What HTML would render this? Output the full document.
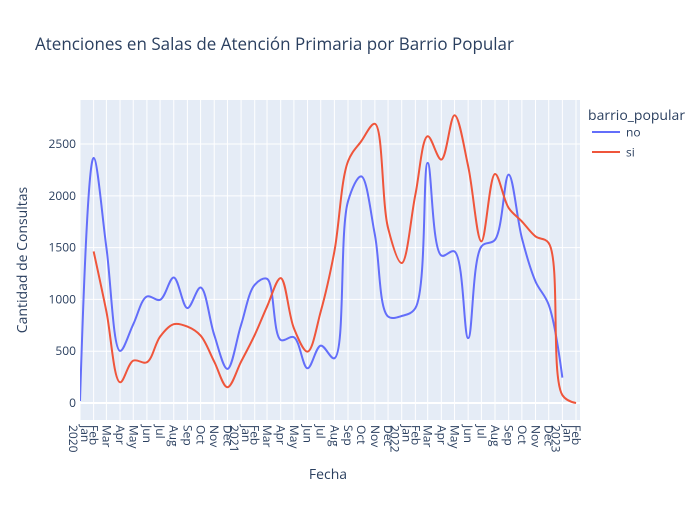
<!DOCTYPE html>
<html><head><meta charset="utf-8"><style>
body{margin:0;background:#fff}
svg{font-family:"Open Sans","Liberation Sans",sans-serif}
</style></head><body>
<svg id="chart" width="700" height="500" xmlns="http://www.w3.org/2000/svg">
<rect width="700" height="500" fill="#fff"/>
<rect x="80" y="100" width="500" height="320" fill="#E5ECF6"/>
<g id="grid"></g><g id="series"></g><g id="xt"></g><g id="yt"></g>
<text x="35" y="50" font-size="17" fill="#2a3f5f">Atenciones en Salas de Atención Primaria por Barrio Popular</text>
<text x="328" y="479" font-size="14" fill="#2a3f5f" text-anchor="middle">Fecha</text>
<text transform="translate(27,260) rotate(-90)" font-size="14" fill="#2a3f5f" text-anchor="middle">Cantidad de Consultas</text>
<g>
<text x="588" y="120" font-size="14" fill="#2a3f5f">barrio_popular</text>
<g><line x1="592" y1="132" x2="620" y2="132" stroke="#636efa" stroke-width="2"/><text x="626" y="136.5" font-size="12" fill="#2a3f5f">no</text></g>
<g><line x1="592" y1="152" x2="620" y2="152" stroke="#EF553B" stroke-width="2"/><text x="626" y="156.5" font-size="12" fill="#2a3f5f">si</text></g>
</g>
</svg>
<script>
const monthNames=["Jan","Feb","Mar","Apr","May","Jun","Jul","Aug","Sep","Oct","Nov","Dec"];
const yTicks=[0,500,1000,1500,2000,2500];
const noStart=[2020,0];
const noValues=[20,2366,1500,503,760,1028,996,1212,916,1115,657,329,754,1141,1199,609,635,335,554,432,1947,2188,1625,835,840,916,2318,1424,1463,626,1511,1576,2205,1593,1173,948,245];
const siStart=[2020,1];
const siValues=[1463,883,200,409,393,641,761,738,651,399,152,399,657,931,1206,722,496,883,1463,2333,2527,2695,1689,1351,2011,2575,2350,2778,2285,1560,2211,1883,1753,1608,1544,77,0];
const NS="http://www.w3.org/2000/svg";
const X0=Date.UTC(2020,0,1),X1=Date.UTC(2023,1,1);
const xs=(y,m)=>80+(Date.UTC(y,m,1)-X0)/(X1-X0)*496;
const Y0=-164,Y1=2925;
const ys=v=>420-(v-Y0)/(Y1-Y0)*320;
function mk(tag,attrs,parent){const e=document.createElementNS(NS,tag);for(const k in attrs)e.setAttribute(k,attrs[k]);parent.appendChild(e);return e;}
const grid=document.getElementById('grid'),xt=document.getElementById('xt'),yt=document.getElementById('yt'),ser=document.getElementById('series');
yTicks.forEach(v=>{
 const l=mk('line',{x1:80,x2:580,y1:ys(v),y2:ys(v),stroke:'#fff','stroke-width':v===0?2:1},grid);
 
 
 const t=mk('text',{x:76,y:ys(v)+4,'font-size':12,fill:'#2a3f5f','text-anchor':'end'},yt);
 t.textContent=v;
 
 
});
for(let i=0;i<=37;i++){
 const y=2020+Math.floor(i/12),m=i%12,x=xs(y,m);
 const g=mk('line',{x1:x,x2:x,y1:100,y2:420,stroke:'#fff','stroke-width':1},grid);
 
 
 const t=mk('text',{transform:`translate(${x+(m===0?5:0)},425) rotate(90)`,'font-size':12,fill:'#2a3f5f',y:4},xt);
 t.textContent=monthNames[m];
 
 
 if(m===0){const t2=mk('text',{transform:`translate(${x-7},425) rotate(90)`,'font-size':12,fill:'#2a3f5f',y:4},xt);
  t2.textContent=String(y);
  
  }
}
function ctrl(p0,p1,p2){
 const d1x=p0[0]-p1[0],d1y=p0[1]-p1[1],d2x=p2[0]-p1[0],d2y=p2[1]-p1[1];
 const d1a=Math.pow(d1x*d1x+d1y*d1y,0.25),d2a=Math.pow(d2x*d2x+d2y*d2y,0.25);
 const nx=(d2a*d2a*d1x-d1a*d1a*d2x),ny=(d2a*d2a*d1y-d1a*d1a*d2y);
 const a=3*d2a*(d1a+d2a),b=3*d1a*(d1a+d2a);
 return [[p1[0]+nx/a,p1[1]+ny/a],[p1[0]-nx/b,p1[1]-ny/b]];
}
function path(start,vals){
 const p=vals.map((v,i)=>{const k=start[1]+i;return [xs(start[0]+Math.floor(k/12),k%12),ys(v)];});
 const t=[];for(let i=1;i<p.length-1;i++)t.push(ctrl(p[i-1],p[i],p[i+1]));
 let d=`M${p[0]}Q${t[0][0]} ${p[1]}`;
 for(let i=1;i<t.length;i++)d+=`C${t[i-1][1]} ${t[i][0]} ${p[i+1]}`;
 d+=`Q${t[t.length-1][1]} ${p[p.length-1]}`;
 return d;
}
const clip=mk('clipPath',{id:'cp'},ser);mk('rect',{x:80,y:100,width:500,height:320},clip);
const pn=mk('path',{d:path(noStart,noValues),fill:'none',stroke:'#636efa','stroke-width':2,'clip-path':'url(#cp)'},ser);


const ps=mk('path',{d:path(siStart,siValues),fill:'none',stroke:'#EF553B','stroke-width':2,'clip-path':'url(#cp)'},ser);


</script>
</body></html>
